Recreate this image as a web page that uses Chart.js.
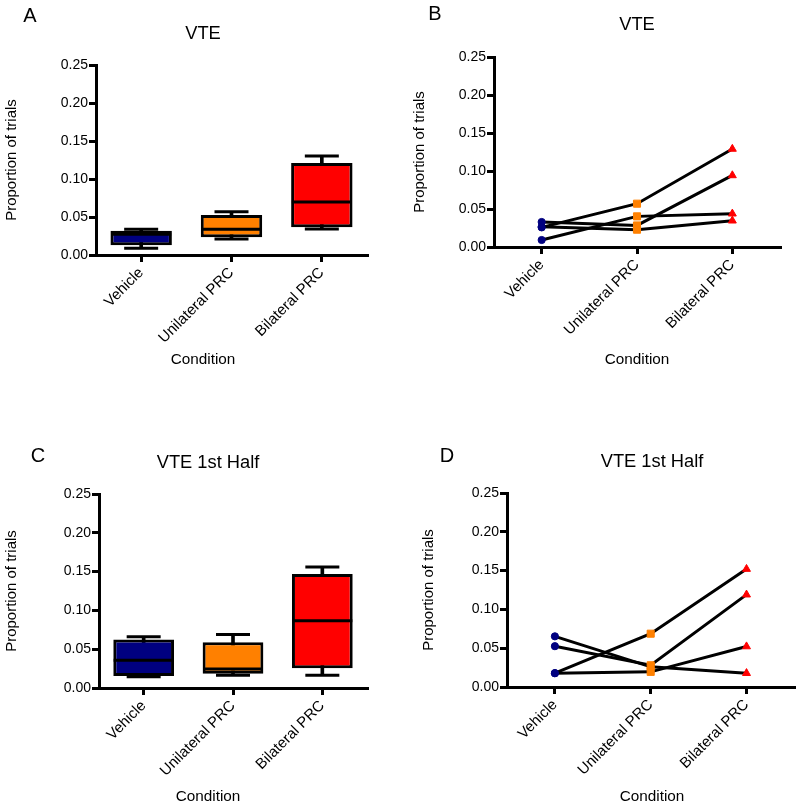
<!DOCTYPE html>
<html>
<head>
<meta charset="utf-8">
<script src="https://cdn.jsdelivr.net/npm/chart.js@4.4.0/dist/chart.umd.min.js"></script>
<style>
html,body{margin:0;padding:0;background:#fff;}
body{width:800px;height:806px;position:relative;overflow:hidden;font-family:"Liberation Sans",Arial,sans-serif;}
.pane{position:absolute;width:400px;height:403px;}
.lbl{position:absolute;transform:translate(-50%,-50%);line-height:1;white-space:nowrap;color:#000;}
.letter{font-size:20px;}
.ttl{font-size:18.3px;}
.xt{font-size:15.3px;}
</style>
</head>
<body>
<div class="pane" style="left:0;top:0"><canvas id="cA" width="400" height="403"></canvas></div>
<div class="pane" style="left:400px;top:0"><canvas id="cB" width="400" height="403"></canvas></div>
<div class="pane" style="left:0;top:403px"><canvas id="cC" width="400" height="403"></canvas></div>
<div class="pane" style="left:400px;top:403px"><canvas id="cD" width="400" height="403"></canvas></div>

<div class="lbl letter" style="left:30px;top:15px">A</div>
<div class="lbl letter" style="left:435px;top:13px">B</div>
<div class="lbl letter" style="left:38px;top:455px">C</div>
<div class="lbl letter" style="left:447px;top:455px">D</div>

<div class="lbl ttl" style="left:203px;top:33px">VTE</div>
<div class="lbl ttl" style="left:637px;top:24px">VTE</div>
<div class="lbl ttl" style="left:208px;top:462px">VTE 1st Half</div>
<div class="lbl ttl" style="left:652px;top:461px">VTE 1st Half</div>

<div class="lbl xt" style="left:203px;top:359px">Condition</div>
<div class="lbl xt" style="left:637px;top:359px">Condition</div>
<div class="lbl xt" style="left:208px;top:796px">Condition</div>
<div class="lbl xt" style="left:652px;top:796px">Condition</div>

<script>
// ---------- data ----------
const categories = ['Vehicle', 'Unilateral PRC', 'Bilateral PRC'];
const yTicks = [0, 0.05, 0.10, 0.15, 0.20, 0.25];
const groupColors = ['#000080', '#FF8000', '#FF0000'];
const groupMarkers = ['circle', 'rect', 'triangle'];

// Panel A: VTE box plot statistics
const boxAMin    = [0.0088, 0.0210, 0.0343];
const boxAQ1     = [0.0128, 0.0233, 0.0365];
const boxAMedian = [0.0272, 0.0340, 0.0699];
const boxAQ3     = [0.0320, 0.0527, 0.1209];
const boxAMax    = [0.0339, 0.0570, 0.1303];

// Panel B: VTE per subject
const vteSubject1 = [0.0258, 0.0570, 0.1290];
const vteSubject2 = [0.0329, 0.0284, 0.0942];
const vteSubject3 = [0.0267, 0.0228, 0.0346];
const vteSubject4 = [0.0092, 0.0403, 0.0438];

// Panel C: VTE 1st half box plot statistics
const boxCMin    = [0.0146, 0.0164, 0.0164];
const boxCQ1     = [0.0155, 0.0185, 0.0255];
const boxCMedian = [0.0358, 0.0246, 0.0867];
const boxCQ3     = [0.0625, 0.0590, 0.1470];
const boxCMax    = [0.0660, 0.0690, 0.1560];

// Panel D: VTE 1st half per subject
const halfSubject1 = [0.0178, 0.0687, 0.1520];
const halfSubject2 = [0.0178, 0.0195, 0.0522];
const halfSubject3 = [0.0653, 0.0260, 0.0178];
const halfSubject4 = [0.0526, 0.0280, 0.1190];

// ---------- setup ----------
Chart.defaults.font.family = '"Liberation Sans", Arial, sans-serif';
Chart.defaults.color = '#000';
Chart.defaults.animation = false;

function scalesFor(lay) {
  return {
    x: {
      type: 'category',
      offset: true,
      grid: { offset: false, drawOnChartArea: false, drawTicks: true, tickLength: 7, lineWidth: 3, color: '#000' },
      border: { display: true, width: 3, color: '#000' },
      ticks: { color: '#000', font: { size: 15 }, minRotation: 45, maxRotation: 45, autoSkip: false, padding: 2 },
      afterFit: s => { s.height = lay.xh; }
    },
    y: {
      type: 'linear',
      min: 0, max: 0.25,
      afterBuildTicks: s => { s.ticks = yTicks.map(v => ({ value: v })); },
      grid: { drawOnChartArea: false, drawTicks: true, tickLength: 7, lineWidth: 3, color: '#000' },
      border: { display: true, width: 3, color: '#000' },
      ticks: { color: '#000', font: { size: 14 }, padding: 1, callback: v => Number(v).toFixed(2) },
      title: { display: true, text: 'Proportion of trials', color: '#000', font: { size: 15 }, padding: { top: lay.ytpt, bottom: 0 } },
      afterFit: s => { s.width = lay.yw; }
    }
  };
}

function commonOpts(lay) {
  return {
    responsive: false,
    animation: false,
    events: [],
    layout: { padding: { left: 0, right: lay.pr, top: lay.pt, bottom: 0 } },
    plugins: { legend: { display: false }, tooltip: { enabled: false }, title: { display: false } },
    scales: scalesFor(lay)
  };
}

function pointSet(data, radius, order) {
  return {
    type: 'line', data: data, showLine: false,
    pointStyle: 'line', pointRadius: radius, pointHoverRadius: radius,
    pointBorderColor: '#000', pointBorderWidth: 3, order: order
  };
}

function boxChart(id, lay, mins, q1s, meds, q3s, maxs) {
  return new Chart(document.getElementById(id), {
    type: 'bar',
    data: {
      labels: categories,
      datasets: [
        { type: 'bar', data: q1s.map((q, i) => [q, q3s[i]]), backgroundColor: groupColors,
          borderColor: '#000', borderWidth: 3, borderSkipped: false,
          barPercentage: 0.68, categoryPercentage: 1, grouped: false, order: 1 },
        { type: 'bar', data: mins.map((m, i) => [m, maxs[i]]), backgroundColor: '#000',
          borderWidth: 0, barThickness: 3, grouped: false, order: 2 },
        pointSet(meds, 30, 0),
        pointSet(mins, 17, 0),
        pointSet(maxs, 17, 0)
      ]
    },
    options: commonOpts(lay)
  });
}

function subjectChart(id, lay, subjects) {
  return new Chart(document.getElementById(id), {
    type: 'line',
    data: {
      labels: categories,
      datasets: subjects.map(d => ({
        data: d, borderColor: '#000', borderWidth: 3, tension: 0, fill: false,
        pointStyle: groupMarkers, pointRadius: [3.6, 5, 4.6], pointHoverRadius: [3.6, 5, 4.6],
        pointBackgroundColor: groupColors, pointBorderColor: groupColors, pointBorderWidth: 1
      }))
    },
    options: commonOpts(lay)
  });
}

boxChart('cA', { yw: 96, pr: 20, pt: 65, xh: 148, ytpt: 3 }, boxAMin, boxAQ1, boxAMedian, boxAQ3, boxAMax);
subjectChart('cB', { yw: 94, pr: 20, pt: 57, xh: 156, ytpt: 11 }, [vteSubject1, vteSubject2, vteSubject3, vteSubject4]);
boxChart('cC', { yw: 99, pr: 11, pt: 91, xh: 118, ytpt: 3 }, boxCMin, boxCQ1, boxCMedian, boxCQ3, boxCMax);
subjectChart('cD', { yw: 107, pr: 3, pt: 90, xh: 119, ytpt: 20 }, [halfSubject1, halfSubject2, halfSubject3, halfSubject4]);
</script>
</body>
</html>
